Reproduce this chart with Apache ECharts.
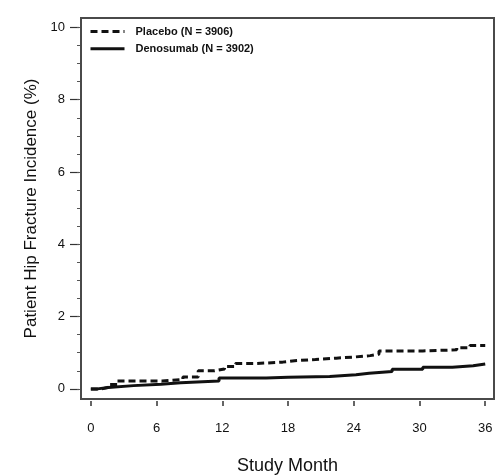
<!DOCTYPE html>
<html>
<head>
<meta charset="utf-8">
<script src="https://cdn.jsdelivr.net/npm/echarts@6/dist/echarts.min.js"></script>
<style>
	html, body { margin: 0; padding: 0; background: #fff; }
	#chart { width: 500px; height: 476px; }
</style>
</head>
<body>
<div id="chart"></div>
<script>
// study month ticks and incidence ticks
var monthTicks = [0, 6, 12, 18, 24, 30, 36];
var yLabelTicks = [0, 2, 4, 6, 8, 10];
var yMinorTicks = [0, 0.5, 1, 1.5, 2, 2.5, 3, 3.5, 4, 4.5, 5, 5.5, 6, 6.5, 7, 7.5, 8, 8.5, 9, 9.5, 10];

// Placebo (N = 3906) - step curve, month where the level starts
var placeboMonths = [0, 1.0, 1.7, 2.4, 6.5, 8.4, 9.8, 11.3, 12.2, 13.2, 15.0, 17.5, 18.6, 20.5, 22.4, 24.0, 25.5, 26.3, 30.3, 33.4, 34.6, 36];
var placeboValues = [0, 0.05, 0.12, 0.22, 0.26, 0.33, 0.50, 0.55, 0.62, 0.70, 0.74, 0.78, 0.81, 0.85, 0.88, 0.92, 0.96, 1.05, 1.08, 1.14, 1.20, 1.20];

// Denosumab (N = 3902)
var denoMonths = [0, 0.6, 1.6, 3.9, 6.4, 8.2, 11.7, 16.0, 18.0, 21.8, 24.2, 25.4, 27.5, 30.3, 33.0, 34.9, 36];
var denoValues = [0, 0.04, 0.09, 0.13, 0.17, 0.22, 0.30, 0.32, 0.34, 0.39, 0.43, 0.48, 0.54, 0.60, 0.64, 0.69, 0.70];

function pairs(xs, ys) {
	var out = [];
	for (var i = 0; i < xs.length; i++) {
		out.push([xs[i], ys[i]]);
	}
	return out;
}

var chart = echarts.init(document.getElementById('chart'));
var font = 'Liberation Sans, Arial, Helvetica, sans-serif';

chart.setOption({
	backgroundColor: '#fff',
	animation: false,
	grid: {
		left: 81,
		top: 18,
		width: 413,
		height: 381,
		outerBoundsMode: 'none',
		containLabel: false,
		show: true,
		borderColor: '#4a4a4a',
		borderWidth: 2,
		backgroundColor: '#fff'
	},
	legend: {
		orient: 'vertical',
		left: 89,
		top: 26,
		padding: 0,
		itemWidth: 34,
		itemHeight: 14,
		itemGap: 6,
		data: ['Placebo (N = 3906)', 'Denosumab (N = 3902)'],
		itemStyle: { color: 'transparent', borderWidth: 0, opacity: 0 },
		lineStyle: { width: 3 },
		textStyle: {
			fontFamily: font,
			fontWeight: 'bold',
			fontSize: 11,
			color: '#111',
			padding: [0, 0, 0, 6]
		}
	},
	xAxis: {
		type: 'value',
		min: -0.9,
		max: 36.8,
		offset: 2,
		name: 'Study Month',
		nameLocation: 'middle',
		nameGap: 56,
		nameTextStyle: { fontFamily: font, fontSize: 18, color: '#111' },
		axisLine: { show: false, onZero: false },
		splitLine: { show: false },
		axisTick: {
			show: true,
			length: 5,
			customValues: monthTicks,
			lineStyle: { color: '#333', width: 1.5 }
		},
		axisLabel: {
			customValues: monthTicks,
			margin: 21,
			fontFamily: font,
			fontSize: 13,
			color: '#111'
		}
	},
	yAxis: [{
		type: 'value',
		position: 'left',
		min: -0.28,
		max: 10.26,
		offset: 2,
		name: 'Patient Hip Fracture Incidence (%)',
		nameLocation: 'middle',
		nameGap: 34,
		nameTextStyle: { fontFamily: font, fontSize: 17, color: '#111' },
		axisLine: { show: false, onZero: false },
		splitLine: { show: false },
		axisTick: {
			show: true,
			length: 9,
			customValues: yLabelTicks,
			lineStyle: { color: '#333', width: 1.2 }
		},
		axisLabel: {
			customValues: yLabelTicks,
			margin: 14,
			fontFamily: font,
			fontSize: 13,
			color: '#111'
		}
	}, {
		type: 'value',
		position: 'left',
		min: -0.28,
		max: 10.26,
		offset: 1,
		axisLine: { show: false, onZero: false },
		splitLine: { show: false },
		axisTick: {
			show: true,
			length: 3,
			customValues: yMinorTicks,
			lineStyle: { color: '#555', width: 1 }
		},
		axisLabel: { show: false }
	}],
	series: [{
		name: 'Placebo (N = 3906)',
		type: 'line',
		step: 'end',
		showSymbol: false,
		symbol: 'none',
		data: pairs(placeboMonths, placeboValues),
		itemStyle: { color: '#111' },
		lineStyle: { color: '#111', width: 3, type: [7, 4] }
	}, {
		name: 'Denosumab (N = 3902)',
		type: 'line',
		step: 'end',
		showSymbol: false,
		symbol: 'none',
		data: pairs(denoMonths, denoValues),
		itemStyle: { color: '#111' },
		lineStyle: { color: '#111', width: 3 }
	}]
});
</script>
</body>
</html>
